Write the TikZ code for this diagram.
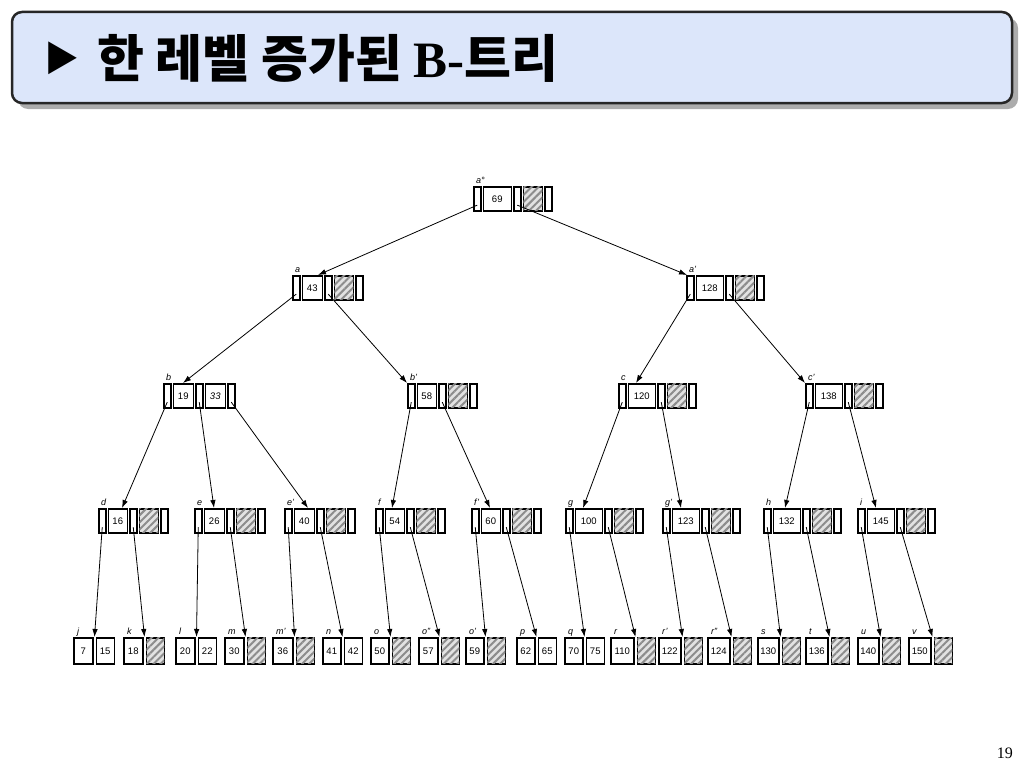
\documentclass[tikz,border=0pt]{standalone}
\usepackage{fontspec}
\setmainfont{Liberation Sans}
\newfontfamily\seriffam{Liberation Serif}
\newfontfamily\krfont{Noto Sans CJK KR}
\usetikzlibrary{patterns,patterns.meta,arrows.meta,calc}
\definecolor{titlefill}{HTML}{DCE6FA}
\definecolor{hatchbg}{HTML}{E2E2E2}
\definecolor{hatchfg}{HTML}{8C8C8C}
\tikzset{
  cellbox/.style={draw, line width=1.5pt, fill=white, minimum height=24pt, inner sep=0pt,
    text height=6.8pt, text depth=0pt,
    anchor=north west, font=\fontsize{9.5}{9.5}\selectfont},
  leafbox/.style={cellbox, minimum height=26pt},
  ptrcell/.style={cellbox, minimum width=7pt},
  hatchcell/.style={cellbox, minimum width=19pt, fill=hatchbg,
    postaction={pattern={Lines[angle=45,distance=5pt,line width=2pt]}, pattern color=hatchfg}},
  leafhatch/.style={leafbox, minimum width=18pt, fill=hatchbg,
    postaction={pattern={Lines[angle=45,distance=5pt,line width=2pt]}, pattern color=hatchfg}},
  lbl/.style={anchor=base west, inner sep=0pt, font=\fontsize{9}{9}\selectfont\itshape},
  edge/.style={-{Latex[length=8pt,width=5.5pt]}, line width=0.8pt}
}
% internal node, one key: name, x, top, keywidth, key, label, tipx
\newcommand\inodeA[7]{%
  \node[ptrcell] (#1-p1) at (#2,#3) {};
  \node[cellbox, minimum width=#4pt] (#1-k1) at ([xshift=1pt]#1-p1.north east) {#5};
  \node[ptrcell] (#1-p2) at ([xshift=1pt]#1-k1.north east) {};
  \node[hatchcell] (#1-h) at ([xshift=1pt]#1-p2.north east) {};
  \node[ptrcell] (#1-p3) at ([xshift=1pt]#1-h.north east) {};
  \node[lbl] (#1-l) at (#2+3,#3-3) {#6};
  \coordinate (#1-s1) at ($(#1-p1.north)!0.75!(#1-p1.south)$);
  \coordinate (#1-s2) at ($(#1-p2.north)!0.75!(#1-p2.south)$);
  \coordinate (#1-s3) at ($(#1-p3.north)!0.75!(#1-p3.south)$);
  \coordinate (#1-in) at (#7,#3);
}
% leaf with two keys: name, x, top, w1, key1, key2, label
\newcommand\leafK[7]{%
  \node[leafbox, minimum width=#4pt] (#1-c1) at (#2,#3) {#5};
  \node[leafbox, minimum width=18pt] (#1-c2) at ([xshift=2pt]#1-c1.north east) {#6};
  \node[lbl] (#1-l) at (#2+4,#3-3) {#7};
  \coordinate (#1-in) at ($(#1-c1.north east)!0.5!(#1-c2.north west)$);
}
% leaf with one key and hatched cell: name, x, top, w1, key1, label
\newcommand\leafH[6]{%
  \node[leafbox, minimum width=#4pt] (#1-c1) at (#2,#3) {#5};
  \node[leafhatch] (#1-c2) at ([xshift=2pt]#1-c1.north east) {};
  \node[lbl] (#1-l) at (#2+4,#3-3) {#6};
  \coordinate (#1-in) at ($(#1-c1.north east)!0.5!(#1-c2.north west)$);
}
\begin{document}
\begin{tikzpicture}[x=1pt,y=-1pt]
\useasboundingbox (0,0) rectangle (1024,768);
% title
\fill[gray!65, rounded corners=10pt] (18,18) rectangle (1018,109);
\draw[line width=2.5pt, draw=black!85, fill=titlefill, rounded corners=10pt] (12,12) rectangle (1012,103);
\node[anchor=west, inner sep=0pt] (tri) at (44,58)
  {\krfont\fontsize{35}{35}\selectfont ▶};
\node[anchor=west, inner sep=0pt] (title) at (97,58)
  {\krfont\bfseries\fontsize{51}{51}\selectfont 한 레벨 증가된 {\seriffam\bfseries B-}트리};
\node[anchor=base east, inner sep=0pt, font=\seriffam\fontsize{16}{16}\selectfont] (pg) at (1013,758) {19};

% internal nodes
\inodeA{a0}{473}{186}{28}{69}{a°}{0}
\inodeA{a}{292}{275}{20}{43}{a}{318}
\inodeA{ap}{686}{275}{27}{128}{a'}{687}
% b: two keys
\node[ptrcell] (b-p1) at (163,383) {};
\node[cellbox, minimum width=20pt] (b-k1) at ([xshift=1pt]b-p1.north east) {19};
\node[ptrcell] (b-p2) at ([xshift=1pt]b-k1.north east) {};
\node[cellbox, minimum width=20pt] (b-k2) at ([xshift=1pt]b-p2.north east) {\itshape 33};
\node[ptrcell] (b-p3) at ([xshift=1pt]b-k2.north east) {};
\node[lbl] (b-l) at (166,380) {b};
\coordinate (b-s1) at ($(b-p1.north)!0.75!(b-p1.south)$);
\coordinate (b-s2) at ($(b-p2.north)!0.75!(b-p2.south)$);
\coordinate (b-s3) at ($(b-p3.north)!0.75!(b-p3.south)$);
\coordinate (b-in) at (183,383);
\inodeA{bp}{407}{383}{19}{58}{b'}{407}
\inodeA{c}{618}{383}{27}{120}{c}{636}
\inodeA{cp}{805}{383}{27}{138}{c'}{805}
\inodeA{d}{98}{508}{19}{16}{d}{122}
\inodeA{e}{194}{508}{20}{26}{e}{214}
\inodeA{ep}{284}{508}{20}{40}{e'}{308}
\inodeA{f}{375}{508}{19}{54}{f}{392}
\inodeA{fp}{471}{508}{19}{60}{f'}{490}
\inodeA{g}{565}{508}{27}{100}{g}{583}
\inodeA{gp}{662}{508}{27}{123}{g'}{681}
\inodeA{h}{763}{508}{27}{132}{h}{785}
\inodeA{i}{857}{508}{27}{145}{i}{876}

% leaves
\leafK{j}{73}{637}{19}{7}{15}{j}
\leafH{k}{123}{637}{19}{18}{k}
\leafK{l}{175}{637}{19}{20}{22}{l}
\leafH{m}{224}{637}{19}{30}{m}
\leafH{mp}{272}{637}{20}{36}{m'}
\leafK{n}{322}{637}{18}{41}{42}{n}
\leafH{o}{370}{637}{18}{50}{o}
\leafH{opp}{418}{637}{19}{57}{o''}
\leafH{op}{465}{637}{18}{59}{o'}
\leafK{p}{516}{637}{18}{62}{65}{p}
\leafK{q}{564}{637}{18}{70}{75}{q}
\leafH{r}{610}{637}{23}{110}{r}
\leafH{rp}{658}{637}{22}{122}{r'}
\leafH{rpp}{707}{637}{22}{124}{r''}
\leafH{s}{757}{637}{21}{130}{s}
\leafH{t}{805}{637}{22}{136}{t}
\leafH{u}{857}{637}{21}{140}{u}
\leafH{v}{908}{637}{22}{150}{v}

% edges
\draw[edge] (a0-s1) -- (a-in);
\draw[edge] (a0-s2) -- (ap-in);
\draw[edge] (a-s1) -- (b-in);
\draw[edge] (a-s2) -- (bp-in);
\draw[edge] (ap-s1) -- (c-in);
\draw[edge] (ap-s2) -- (cp-in);
\draw[edge] (b-s1) -- (d-in);
\draw[edge] (b-s2) -- (e-in);
\draw[edge] (b-s3) -- (ep-in);
\draw[edge] (bp-s1) -- (f-in);
\draw[edge] (bp-s2) -- (fp-in);
\draw[edge] (c-s1) -- (g-in);
\draw[edge] (c-s2) -- (gp-in);
\draw[edge] (cp-s1) -- (h-in);
\draw[edge] (cp-s2) -- (i-in);
\draw[edge] (d-s1) -- (j-in);
\draw[edge] (d-s2) -- (k-in);
\draw[edge] (e-s1) -- (l-in);
\draw[edge] (e-s2) -- (m-in);
\draw[edge] (ep-s1) -- (mp-in);
\draw[edge] (ep-s2) -- (n-in);
\draw[edge] (f-s1) -- (o-in);
\draw[edge] (f-s2) -- (opp-in);
\draw[edge] (fp-s1) -- (op-in);
\draw[edge] (fp-s2) -- (p-in);
\draw[edge] (g-s1) -- (q-in);
\draw[edge] (g-s2) -- (r-in);
\draw[edge] (gp-s1) -- (rp-in);
\draw[edge] (gp-s2) -- (rpp-in);
\draw[edge] (h-s1) -- (s-in);
\draw[edge] (h-s2) -- (t-in);
\draw[edge] (i-s1) -- (u-in);
\draw[edge] (i-s2) -- (v-in);
\end{tikzpicture}
\end{document}
